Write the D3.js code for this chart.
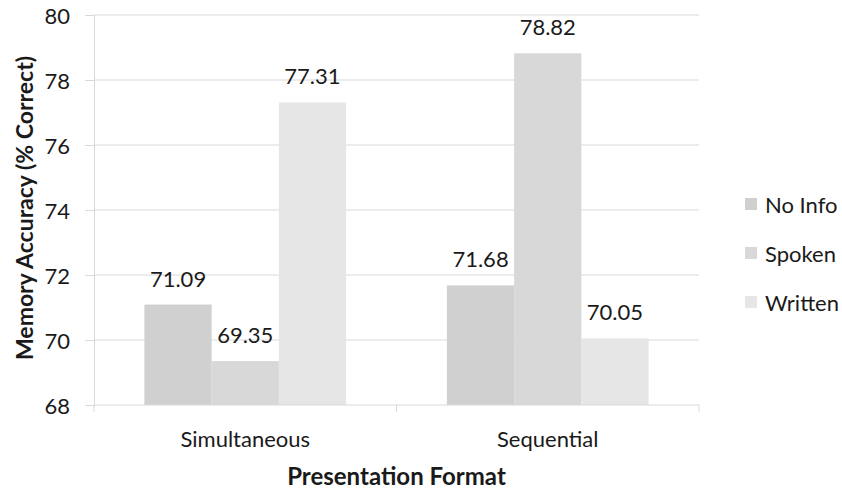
<!DOCTYPE html>
<html><head><meta charset="utf-8">
<script src="https://cdn.jsdelivr.net/npm/d3@7"></script>
<style>body{margin:0;background:#fff}svg{display:block}text{font-family:Lato,"Open Sans",sans-serif;fill:#1a1a1a}</style>
</head><body>
<svg id="c" width="842" height="489"></svg>
<script>
const categories = ["Simultaneous", "Sequential"];
const series = ["No Info", "Spoken", "Written"];
const noInfo = [71.09, 71.68];
const spoken = [69.35, 78.82];
const written = [77.31, 70.05];
const yTicks = [68, 70, 72, 74, 76, 78, 80];
const colors = ["#d0d0d0", "#d8d8d8", "#e6e6e6"];
const values = [noInfo, spoken, written];

const svg = d3.select("#c");
const m = {l: 94, r: 143, t: 15, b: 84};
const W = 842 - m.l - m.r, H = 489 - m.t - m.b;
const g = svg.append("g").attr("transform", `translate(${m.l},${m.t})`);

const x0 = d3.scaleBand().domain(categories).range([0, W]).paddingInner(0).paddingOuter(0);
const x1 = d3.scaleBand().domain(series).range([x0.bandwidth()*0.75/4.5, x0.bandwidth() - x0.bandwidth()*0.75/4.5]);
const y = d3.scaleLinear().domain([68, 80]).range([H, 0]);

// grid
g.append("g").selectAll("line").data(yTicks.slice(1)).join("line")
  .attr("x1", 0).attr("x2", W).attr("y1", d => y(d)).attr("y2", d => y(d))
  .attr("stroke", "#d9d9d9").attr("stroke-width", 1);

// y axis
const ya = g.append("g").call(d3.axisLeft(y).tickValues(yTicks).tickSize(9).tickPadding(15));
ya.select(".domain").attr("stroke", "#d9d9d9");
ya.selectAll(".tick line").attr("stroke", "#d9d9d9");
ya.selectAll(".tick text").attr("font-size", 22).attr("fill", "#1a1a1a").attr("dy", "0.38em").style("font-family", "Lato");

// bars
const groups = g.append("g").selectAll("g").data(categories).join("g")
  .attr("transform", d => `translate(${x0(d)},0)`);
groups.selectAll("rect").data((c, ci) => series.map((s, si) => ({s, si, v: values[si][ci]}))).join("rect")
  .attr("x", d => x1(d.s)).attr("width", x1.bandwidth())
  .attr("y", d => y(d.v)).attr("height", d => H - y(d.v))
  .attr("fill", d => colors[d.si]);
groups.selectAll("text.v").data((c, ci) => series.map((s, si) => ({s, si, v: values[si][ci]}))).join("text")
  .attr("class", "v")
  .attr("x", d => x1(d.s) + x1.bandwidth()/2).attr("y", d => y(d.v) - 18)
  .attr("text-anchor", "middle").attr("font-size", 22)
  .text(d => d.v.toFixed(2));

// x axis
const xa = g.append("g").attr("transform", `translate(0,${H})`);
xa.append("line").attr("x1", 0).attr("x2", W).attr("stroke", "#d9d9d9");
xa.selectAll("line.t").data([0, ...categories.map(c => x0(c) + x0.bandwidth())]).join("line")
  .attr("class", "t").attr("x1", d => d).attr("x2", d => d).attr("y1", 0).attr("y2", 7).attr("stroke", "#d9d9d9");
xa.selectAll("text").data(categories).join("text")
  .attr("x", d => x0(d) + x0.bandwidth()/2).attr("y", 42)
  .attr("text-anchor", "middle").attr("font-size", 22).text(d => d);

// titles
svg.append("text").attr("x", m.l + W/2).attr("y", 485).attr("text-anchor", "middle")
  .attr("font-size", 24).attr("font-weight", "bold").text("Presentation Format");
svg.append("text").attr("transform", `translate(33,${m.t + H/2 - 2}) rotate(-90)`).attr("text-anchor", "middle")
  .attr("font-size", 23).attr("font-weight", "bold").text("Memory Accuracy (% Correct)");

// legend
const lg = svg.append("g").attr("transform", "translate(745,198)");
const li = lg.selectAll("g").data(series).join("g").attr("transform", (d, i) => `translate(0,${i*49})`);
li.append("rect").attr("width", 12).attr("height", 12).attr("fill", (d, i) => colors[i]);
li.append("text").attr("x", 20).attr("y", 15).attr("font-size", 22).text(d => d);
</script>
</body></html>
